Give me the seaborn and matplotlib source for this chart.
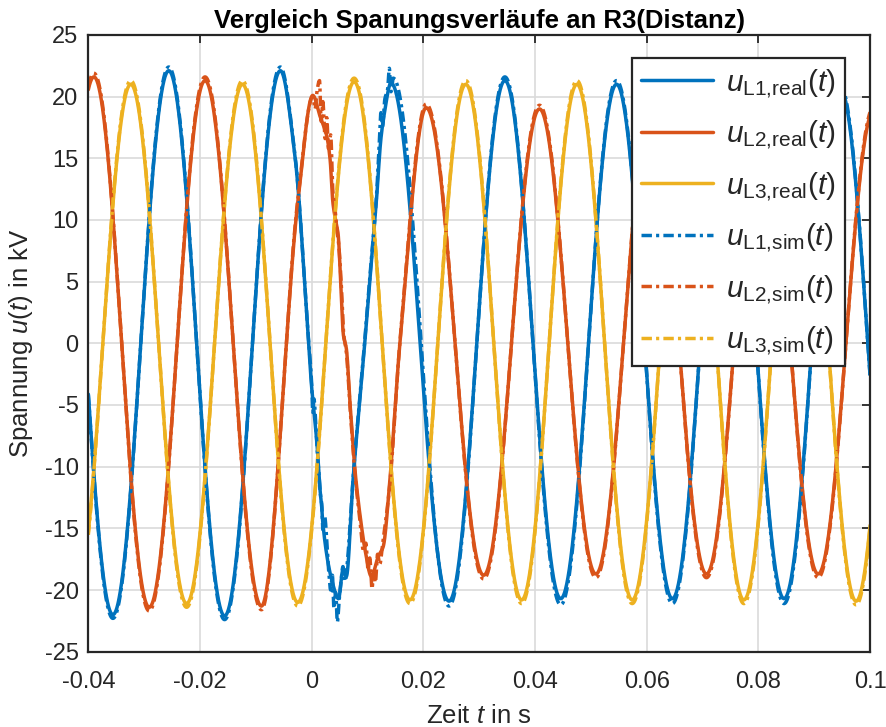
import numpy as np
import pandas as pd
import matplotlib
matplotlib.use("Agg")
import matplotlib.pyplot as plt
import seaborn as sns

# ---------------------------------------------------------------------------
# Measured three-phase voltages (kV) at relay R3, fault inception at t = 0.
# Steady-state parts are described by their extrema (time in s, value in kV),
# the disturbed interval by denser samples.
# ---------------------------------------------------------------------------

# phase L1 -- extrema
t_l1 = [-0.0456, -0.0356, -0.0256, -0.0156, -0.0056, 0.0246, 0.0346, 0.0446,
        0.0546, 0.0646, 0.0746, 0.0846, 0.0946, 0.1046]
u_l1_real = [22.0, -22.0, 22.1, -22.1, 22.1, -20.9, 21.3, -20.7,
             21.0, -20.7, 20.8, -20.7, 20.7, -20.6]
u_l1_sim = [22.3, -22.3, 22.4, -22.4, 22.4, -21.3, 21.6, -21.2,
            21.3, -21.1, 21.1, -21.1, 21.0, -21.0]
# phase L1 -- fault interval
tf_l1_real = [-0.0030, -0.0006, 0.0000, 0.0003, 0.0009, 0.0015, 0.0018, 0.0020,
              0.0036, 0.0048, 0.0056, 0.0062, 0.0074, 0.0095, 0.0104, 0.0116,
              0.0124, 0.0130, 0.0142]
uf_l1_real = [15.2, 0.4, -3.6, -5.0, -7.8, -11.9, -13.3, -14.6,
              -19.2, -20.7, -18.4, -18.9, -11.1, 0.0, 5.0, 11.6,
              16.6, 18.6, 21.1]
tf_l1_sim = [-0.0030, -0.0006, 0.0000, 0.0002, 0.0004, 0.0009, 0.0013, 0.0016,
             0.0018, 0.0020, 0.0023, 0.0030, 0.0034, 0.0037, 0.0040, 0.0043,
             0.0046, 0.0049, 0.0052, 0.0056, 0.0060, 0.0064, 0.0074, 0.0095,
             0.0104, 0.0116, 0.0121, 0.0124, 0.0127, 0.0131, 0.0136, 0.0139,
             0.0142, 0.0146]
uf_l1_sim = [15.3, 0.5, -3.3, -5.6, -4.5, -8.1, -10.6, -12.4,
             -13.0, -15.1, -14.0, -18.2, -20.0, -18.8, -21.5, -20.2,
             -22.6, -20.9, -19.6, -18.1, -19.3, -17.7, -11.0, 0.2,
             5.3, 11.9, 16.2, 18.7, 17.6, 19.8, 20.6, 22.3,
             20.4, 21.5]

# phase L2 -- extrema
t_l2 = [-0.0491, -0.0390, -0.0291, -0.0191, -0.0090, 0.0205, 0.0308, 0.0408,
        0.0509, 0.0608, 0.0707, 0.0807, 0.0907, 0.1007, 0.1107]
u_l2_real = [-21.4, 21.6, -21.4, 21.3, -21.3, 19.1, -18.8, 19.0,
             -18.7, 18.9, -18.7, 18.9, -18.7, 18.9, -18.7]
u_l2_sim = [-21.7, 21.9, -21.7, 21.6, -21.6, 19.4, -19.1, 19.3,
            -19.0, 19.2, -19.0, 19.2, -19.0, 19.2, -19.0]
# phase L2 -- fault interval
tf_l2_real = [-0.0024, 0.0002, 0.0015, 0.0027, 0.0033, 0.0038, 0.0045, 0.0047,
              0.0057, 0.0062, 0.0069, 0.0078, 0.0090, 0.0095, 0.0107, 0.0119,
              0.0128, 0.0140, 0.0158]
uf_l2_real = [11.8, 20.1, 18.4, 16.8, 14.9, 11.4, 9.5, 9.0,
              0.6, -0.4, -5.1, -10.5, -15.1, -16.6, -18.9, -17.3,
              -16.5, -11.1, 0.0]
tf_l2_sim = [-0.0024, 0.0002, 0.0006, 0.0010, 0.0014, 0.0017, 0.0020, 0.0024,
             0.0027, 0.0030, 0.0034, 0.0038, 0.0042, 0.0045, 0.0048, 0.0053,
             0.0057, 0.0062, 0.0069, 0.0078, 0.0087, 0.0093, 0.0097, 0.0101,
             0.0104, 0.0108, 0.0111, 0.0114, 0.0118, 0.0122, 0.0127, 0.0140,
             0.0158]
uf_l2_sim = [12.0, 20.0, 19.0, 20.6, 21.3, 18.0, 19.6, 16.6,
             18.3, 15.8, 16.9, 12.3, 10.8, 9.3, 8.2, 4.8,
             0.9, -0.7, -5.4, -10.8, -14.6, -16.9, -16.2, -18.4,
             -17.4, -19.9, -18.5, -19.4, -17.1, -17.9, -16.3, -11.4,
             0.1]

# phase L3 -- extrema (no visible disturbance)
t_l3 = [-0.0424, -0.0324, -0.0224, -0.0124, -0.0025, 0.0076, 0.0176, 0.0276,
        0.0376, 0.0475, 0.0574, 0.0675, 0.0774, 0.0875, 0.0975, 0.1075]
u_l3_real = [-21.0, 21.0, -21.1, 21.0, -21.0, 21.2, -20.8, 21.0,
             -20.8, 21.0, -20.8, 21.0, -20.8, 21.0, -20.9, 21.0]
u_l3_sim = [-21.3, 21.3, -21.4, 21.3, -21.3, 21.5, -21.1, 21.3,
            -21.1, 21.3, -21.1, 21.3, -21.1, 21.3, -21.2, 21.3]

x_ticks = [-0.04, -0.02, 0.0, 0.02, 0.04, 0.06, 0.08, 0.1]
x_tick_labels = ["-0.04", "-0.02", "0", "0.02", "0.04", "0.06", "0.08", "0.1"]
y_ticks = [-25, -20, -15, -10, -5, 0, 5, 10, 15, 20, 25]
y_tick_labels = ["-25", "-20", "-15", "-10", "-5", "0", "5", "10", "15", "20", "25"]

colors = {"L1": "#0072BD", "L2": "#D95319", "L3": "#EDB120"}


def knots(t_ext, u_ext, t_f=(), u_f=()):
    t = np.concatenate([np.asarray(t_ext, float), np.asarray(t_f, float)])
    u = np.concatenate([np.asarray(u_ext, float), np.asarray(u_f, float)])
    order = np.argsort(t)
    return t[order], u[order]


def wave(tk, uk, t):
    """Shape-preserving curve through the knots: half-cosine arcs between
    turning points, monotone cubic Hermite pieces elsewhere."""
    h = np.diff(tk)
    d = np.diff(uk) / h
    m = np.zeros_like(uk)
    for i in range(1, len(uk) - 1):
        if d[i - 1] * d[i] > 0:
            w1 = 2 * h[i] + h[i - 1]
            w2 = h[i] + 2 * h[i - 1]
            m[i] = (w1 + w2) / (w1 / d[i - 1] + w2 / d[i])
    k = np.clip(np.searchsorted(tk, t) - 1, 0, len(tk) - 2)
    s = (t - tk[k]) / h[k]
    y0, y1, m0, m1, hk = uk[k], uk[k + 1], m[k], m[k + 1], h[k]
    herm = ((2 * s**3 - 3 * s**2 + 1) * y0 + (s**3 - 2 * s**2 + s) * hk * m0
            + (-2 * s**3 + 3 * s**2) * y1 + (s**3 - s**2) * hk * m1)
    cosine = y0 + (y1 - y0) * (1 - np.cos(np.pi * s)) / 2
    flat = (m0 == 0) & (m1 == 0)
    return np.where(flat, cosine, herm)


t = np.linspace(-0.04, 0.1, 7001)
series = [
    ("L1", "real", knots(t_l1, u_l1_real, tf_l1_real, uf_l1_real)),
    ("L2", "real", knots(t_l2, u_l2_real, tf_l2_real, uf_l2_real)),
    ("L3", "real", knots(t_l3, u_l3_real)),
    ("L1", "sim", knots(t_l1, u_l1_sim, tf_l1_sim, uf_l1_sim)),
    ("L2", "sim", knots(t_l2, u_l2_sim, tf_l2_sim, uf_l2_sim)),
    ("L3", "sim", knots(t_l3, u_l3_sim)),
]
df = pd.concat(
    [pd.DataFrame({"t": t, "u": wave(tk, uk, t), "phase": ph, "kind": kind})
     for ph, kind, (tk, uk) in series],
    ignore_index=True,
)

sns.set_theme(style="white")
plt.rcParams.update({
    "font.family": ["Liberation Sans", "DejaVu Sans"],
    "mathtext.fontset": "custom",
    "mathtext.rm": "Liberation Sans",
    "mathtext.it": "Liberation Sans:italic",
    "mathtext.bf": "Liberation Sans:bold",
    "axes.unicode_minus": False,
})

fig = plt.figure(figsize=(8.86, 7.27), dpi=100)
ax = fig.add_axes([0.0997, 0.1036, 0.8823, 0.8483])

for ph, kind, _ in series:
    sub = df[(df["phase"] == ph) & (df["kind"] == kind)]
    ls = "-" if kind == "real" else (0, (3.0, 1.2, 0.9, 1.2))
    sns.lineplot(data=sub, x="t", y="u", ax=ax, color=colors[ph], lw=2.5,
                 linestyle=ls, estimator=None, sort=False,
                 label=r"$u_{\text{%s,%s}}(t)$" % (ph, kind))

ax.set_xlim(-0.04, 0.1)
ax.set_ylim(-25, 25)
ax.set_xticks(x_ticks)
ax.set_xticklabels(x_tick_labels)
ax.set_yticks(y_ticks)
ax.set_yticklabels(y_tick_labels)
ax.grid(True, color="#dadada", lw=1.2)
ax.set_axisbelow(True)
for sp in ax.spines.values():
    sp.set_linewidth(1.6)
    sp.set_color("#262626")
ax.tick_params(direction="in", length=6, width=1.3, top=True, right=True,
               labelsize=17, colors="#262626", pad=14)
ax.tick_params(axis="y", pad=7)

ax.set_xlabel(r"Zeit $t$ in s", fontsize=18.5, color="#262626", labelpad=8)
ax.set_ylabel(r"Spannung $u(t)$ in kV", fontsize=18.5, color="#262626", labelpad=7)
ax.set_title("Vergleich Spanungsverläufe an R3(Distanz)", fontsize=18.5,
             fontweight="bold", color="black", pad=5)

leg = ax.legend(loc="upper right", bbox_to_anchor=(0.968, 0.963), borderaxespad=0,
                fontsize=21.5, frameon=True, fancybox=False, framealpha=1,
                edgecolor="#262626", borderpad=0.3, handlelength=2.4,
                handletextpad=0.45, labelspacing=0.62)
leg.get_frame().set_linewidth(1.6)

fig.savefig("out.png", dpi=100, facecolor="white")
